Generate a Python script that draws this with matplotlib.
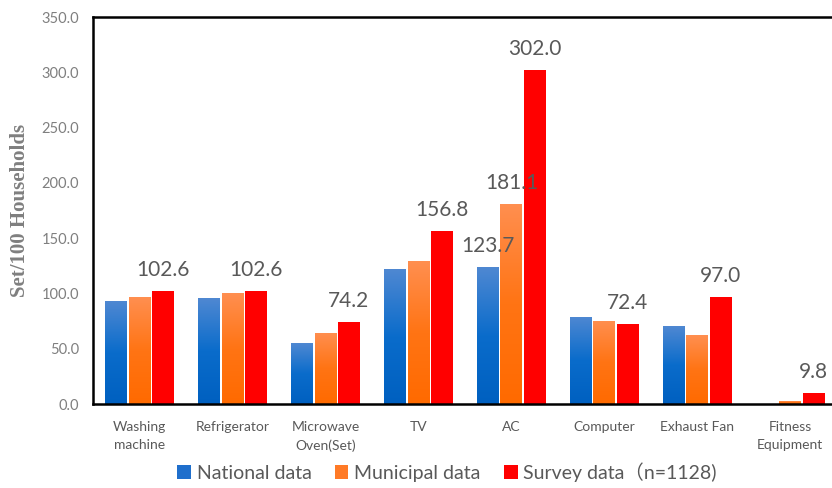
import numpy as np
import matplotlib.pyplot as plt
from matplotlib.colors import LinearSegmentedColormap

categories = ["Washing\nmachine", "Refrigerator", "Microwave\nOven(Set)", "TV", "AC",
              "Computer", "Exhaust Fan", "Fitness\nEquipment"]
national = [93.1, 95.5, 54.9, 122.0, 123.7, 79.0, 70.5, 0.0]
municipal = [96.7, 100.3, 64.5, 129.3, 181.1, 75.3, 62.1, 2.7]
survey = [102.6, 102.6, 74.2, 156.8, 302.0, 72.4, 97.0, 9.8]
series_names = ["National data", "Municipal data", "Survey data\uff08n=1128)"]

# which bars get a value label: (series index, category index)
labelled = [(2, 0), (2, 1), (2, 2), (2, 3), (0, 4), (1, 4), (2, 4), (2, 5), (2, 6), (2, 7)]

plt.rcParams['font.family'] = ['Lato', 'Noto Sans CJK SC', 'DejaVu Sans']

fig = plt.figure(figsize=(8.32, 4.88), dpi=100)
ax = fig.add_axes([0.1118, 0.172, 0.894, 0.793])

x = np.arange(len(categories))
w = 0.25
series = [national, municipal, survey]
offsets = [-w, 0, w]
grads = [
    LinearSegmentedColormap.from_list("b", ["#0060C0", "#0A6CCB", "#4F88D2"]),
    LinearSegmentedColormap.from_list("o", ["#FF6A00", "#FF7414", "#FF8F50"]),
    None,
]
solid = ["#1F6FCC", "#FF7A26", "#FF0000"]

grad_img = np.linspace(0, 1, 256).reshape(-1, 1)
for si, vals in enumerate(series):
    bars = ax.bar(x + offsets[si], vals, width=w * 0.94, color=solid[si],
                  label=series_names[si], zorder=2)
    if grads[si] is not None:
        for b in bars:
            h = b.get_height()
            if h <= 0:
                continue
            x0 = b.get_x()
            im = ax.imshow(grad_img, cmap=grads[si], aspect='auto', origin='lower',
                           extent=[x0, x0 + b.get_width(), 0, h], zorder=2.5)
            im.set_clip_path(b)

for si, ci in labelled:
    v = series[si][ci]
    ax.annotate(f"{v:.1f}", (x[ci] + offsets[si], v), xytext=(0, 8),
                textcoords='offset points', ha='center', va='bottom',
                fontsize=15, color='#595959', zorder=4)

ax.set_xlim(-0.5, len(categories) - 0.5)
ax.set_ylim(0, 350)
ax.set_yticks(np.arange(0, 351, 50))
ax.set_yticklabels([f"{t:.1f}" for t in np.arange(0, 351, 50)])
ax.set_xticks(x)
ax.set_xticklabels(categories, fontsize=10, color='#595959', linespacing=1.6)
ax.tick_params(axis='y', length=0, labelsize=10.5, labelcolor='#7F7F7F', pad=10)
ax.tick_params(axis='x', length=0, pad=12)
for s in ['left', 'top', 'bottom', 'right']:
    ax.spines[s].set_linewidth(1.8)
    ax.spines[s].set_color('black')

ax.set_ylabel("Set/100 Households", family='Liberation Serif', fontweight='bold',
              fontsize=15, color='#7F7F7F', labelpad=8)

leg = ax.legend(loc='center', bbox_to_anchor=(0.476, -0.176), ncol=3,
                frameon=False, fontsize=14, handlelength=0.7, handleheight=0.7,
                handletextpad=0.3, columnspacing=1.2)
for t in leg.get_texts():
    t.set_color('#595959')

fig.savefig("out.png", dpi=100)
